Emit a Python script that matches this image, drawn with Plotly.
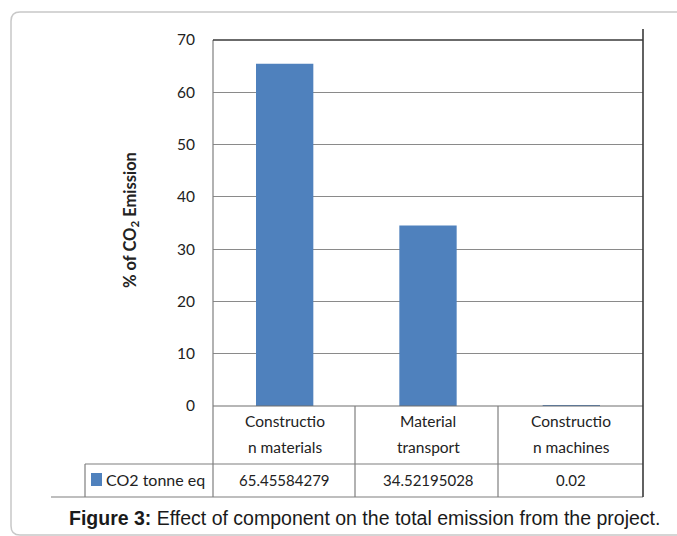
import plotly.graph_objects as go

categories = ["Constructio<br>n materials", "Material<br>transport", "Constructio<br>n machines"]
values = [65.45584279, 34.52195028, 0.02]
value_labels = ["65.45584279", "34.52195028", "0.02"]
series_name = "CO2 tonne eq"
y_ticks = [0, 10, 20, 30, 40, 50, 60, 70]
caption_bold = "Figure 3:"
caption_text = " Effect of component on the total emission from the project."

BAR = "#4F81BD"
FONT = "Lato"

W, H = 677, 536
L, R, T, B = 213, 643, 40, 406
PW, PH = R - L, B - T


def px(x):
    return (x - L) / PW


def py(y):
    return (B - y) / PH


x_idx = list(range(len(categories)))

fig = go.Figure()
fig.add_trace(go.Bar(x=x_idx, y=values, marker=dict(color=BAR, line=dict(width=0)),
                     name=series_name, showlegend=False))

shapes = []
ann = []

# outer rounded frame
r = 9
path = (f"M {px(700)},{py(12)} L {px(11 + r)},{py(12)} Q {px(11)},{py(12)} {px(11)},{py(12 + r)} "
        f"L {px(11)},{py(535 - r)} Q {px(11)},{py(535)} {px(11 + r)},{py(535)} L {px(700)},{py(535)}")
shapes.append(dict(type="path", xref="paper", yref="paper", path=path,
                   line=dict(color="#c8c8c8", width=1.5)))


def hline(y, x0, x1, color="#7f7f7f", w=1):
    shapes.append(dict(type="line", xref="paper", yref="paper", x0=px(x0), x1=px(x1),
                       y0=py(y), y1=py(y), line=dict(color=color, width=w)))


def vline(x, y0, y1, color="#7f7f7f", w=1):
    shapes.append(dict(type="line", xref="paper", yref="paper", x0=px(x), x1=px(x),
                       y0=py(y0), y1=py(y1), line=dict(color=color, width=w)))


# table grid
hline(406, 213, 643, "#6f6f6f", 1.2)
hline(464, 85, 643, "#7f7f7f", 1.2)
hline(497, 51, 643, "#7f7f7f", 1.2)
vline(85, 464, 497, "#7f7f7f", 1.2)
vline(213, 40, 497, "#7f7f7f", 1.2)
vline(355, 406, 497, "#7f7f7f", 1.2)
vline(498, 406, 497, "#7f7f7f", 1.2)
vline(643, 29, 497, "#3a3a3a", 1.6)
hline(40, 213, 643, "#3a3a3a", 1.6)

# legend key
shapes.append(dict(type="rect", xref="paper", yref="paper", x0=px(91), x1=px(102),
                   y0=py(486), y1=py(473), fillcolor=BAR, line=dict(width=0)))
ann.append(dict(xref="paper", yref="paper", x=px(104), y=py(479.5), text=series_name,
                showarrow=False, xanchor="left", yanchor="middle",
                font=dict(family=FONT, size=16, color="#222")))

for i, (c, v) in enumerate(zip(categories, value_labels)):
    lines = c.split("<br>")
    for j, (ln, yy) in enumerate(zip(lines, [421, 447])):
        ann.append(dict(xref="x", yref="paper", x=i, y=py(yy), text=ln, showarrow=False,
                        xanchor="center", yanchor="middle",
                        font=dict(family=FONT, size=15.5, color="#222")))
    ann.append(dict(xref="x", yref="paper", x=i, y=py(479.5), text=v, showarrow=False,
                    xanchor="center", yanchor="middle",
                    font=dict(family=FONT, size=15, color="#222")))

# y title
ann.append(dict(xref="paper", yref="paper", x=px(130), y=py(220),
                text="<b>% of CO<sub>2</sub> Emission</b>", textangle=-90, showarrow=False,
                xanchor="center", yanchor="middle",
                font=dict(family=FONT, size=16.5, color="#222")))

# caption
ann.append(dict(xref="paper", yref="paper", x=px(67), y=py(518),
                text=f"<b>{caption_bold}</b>{caption_text}", showarrow=False,
                xanchor="left", yanchor="middle",
                font=dict(family="Liberation Sans", size=19.5, color="#1a1a1a")))

fig.update_layout(
    width=W, height=H,
    margin=dict(l=L, r=W - R, t=T, b=H - B, pad=0),
    paper_bgcolor="white", plot_bgcolor="white",
    bargap=0.6,
    shapes=shapes, annotations=ann,
    xaxis=dict(range=[-0.5, 2.5], showticklabels=False, showgrid=False, zeroline=False,
               showline=False, ticks="", fixedrange=True),
    yaxis=dict(range=[0, 70], tickvals=y_ticks, showgrid=True, gridcolor="#8a8a8a",
               gridwidth=1, zeroline=False, showline=False, ticks="",
               ticklabelstandoff=17,
               tickfont=dict(family=FONT, size=15.5, color="#222")),
    showlegend=False,
)

fig.write_html("out.html", config={"displayModeBar": False},
               post_script="document.body.style.margin='0';")
